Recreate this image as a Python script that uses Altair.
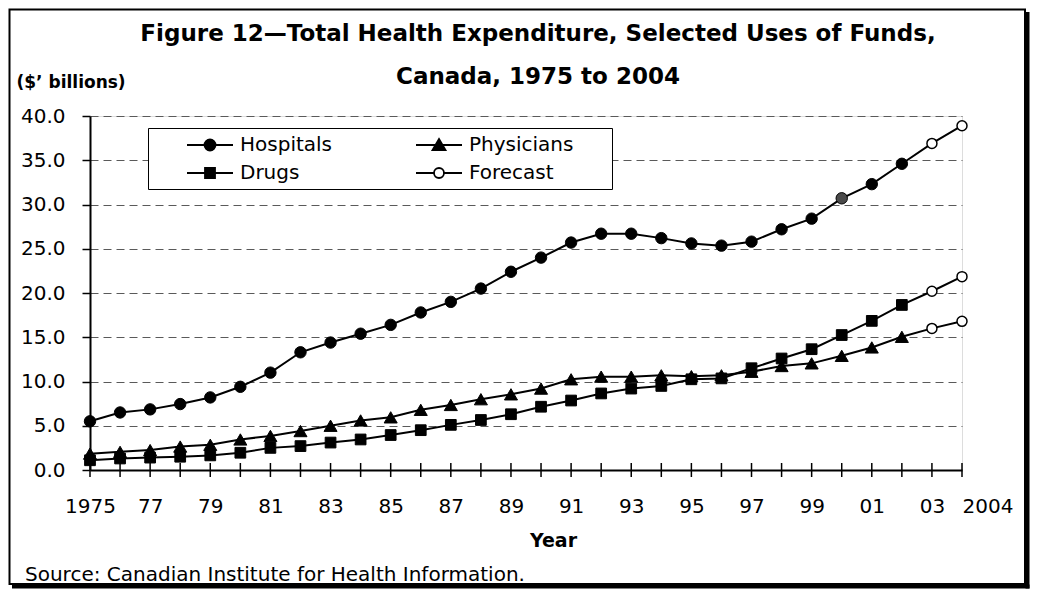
import altair as alt
import pandas as pd

# ---------------- data ----------------
years = list(range(1975, 2005))
hospitals = [5.5, 6.5, 6.85, 7.45, 8.2, 9.4, 11.0, 13.3, 14.4, 15.4, 16.4, 17.8, 19.0, 20.5, 22.4,
             24.0, 25.7, 26.7, 26.7, 26.2, 25.6, 25.35, 25.8, 27.2, 28.4, 30.7, 32.3, 34.6, 36.9, 38.9]
physicians = [1.85, 2.05, 2.25, 2.65, 2.85, 3.45, 3.85, 4.4, 5.0, 5.6, 5.95, 6.8, 7.35, 8.0, 8.55,
              9.2, 10.25, 10.55, 10.55, 10.7, 10.6, 10.7, 11.1, 11.75, 12.05, 12.9, 13.85, 15.05, 16.0, 16.8]
drugs = [1.1, 1.3, 1.4, 1.5, 1.65, 1.95, 2.5, 2.7, 3.1, 3.45, 3.95, 4.5, 5.1, 5.65, 6.3,
         7.15, 7.85, 8.65, 9.2, 9.5, 10.25, 10.35, 11.5, 12.6, 13.65, 15.25, 16.85, 18.65, 20.2, 21.85]
forecast_years = [2003, 2004]
series_names = ["Hospitals", "Physicians", "Drugs"]
legend_keys = ["Hospitals", "Physicians", "Drugs", "Forecast"]
y_ticks = [0, 5, 10, 15, 20, 25, 30, 35, 40]
x_tick_years = [1975, 1977, 1979, 1981, 1983, 1985, 1987, 1989, 1991, 1993, 1995, 1997,
                1999, 2001, 2003, 2004]
x_tick_labels = ["1975", "77", "79", "81", "83", "85", "87", "89", "91", "93", "95", "97",
                 "99", "01", "03", "2004"]

title_lines = ["Figure 12\u2014Total Health Expenditure, Selected Uses of Funds,",
               "Canada, 1975 to 2004"]
y_title = "($\u2019 billions)"
x_title = "Year"
source_text = "Source: Canadian Institute for Health Information."

FONT = "DejaVu Sans"

rows = []
for name, vals in zip(series_names, [hospitals, physicians, drugs]):
    for yr, v in zip(years, vals):
        rows.append({"year": yr, "value": v, "series": name,
                     "forecast": yr in forecast_years})
df = pd.DataFrame(rows)
years_df = pd.DataFrame({"year": years})

# ---------------- encodings ----------------
label_map = "{" + ",".join(f"'{y}':'{l}'" for y, l in zip(x_tick_years, x_tick_labels)) + "}"

x_enc = alt.X(
    "year:Q",
    scale=alt.Scale(domain=[1975, 2004], nice=False, zero=False),
    axis=alt.Axis(
        values=x_tick_years, labelExpr=f"{label_map}[datum.value]",
        labelFont=FONT, labelFontSize=20, labelColor="black", labelPadding=26,
        labelAlign={"condition": {"test": "datum.value == 2004", "value": "left"}, "value": "center"},
        labelOverlap=False, labelFlush=False,
        ticks=False, tickSize=0, domainColor="black", domainWidth=2, grid=False,
        title=x_title, titleFont=FONT, titleFontSize=19, titleFontWeight="bold",
        titleColor="black", titleX=463, titleY=70, titleBaseline="middle", titleAlign="center",
    ),
)
y_enc = alt.Y(
    "value:Q",
    scale=alt.Scale(domain=[0, 40], nice=False),
    axis=alt.Axis(
        values=y_ticks, format=".1f",
        labelFont=FONT, labelFontSize=20, labelColor="black", labelPadding=17,
        tickSize=8, tickWidth=1.5, tickColor="black",
        domainColor="black", domainWidth=2,
        grid=True, gridColor="#5a5a5a", gridDash=[8, 5], gridWidth=1,
        gridOpacity={"condition": {"test": "datum.value == 0", "value": 0}, "value": 1},
        title=y_title, titleAngle=0, titleAlign="left", titleBaseline="middle",
        titleX=-74, titleY=-34, titleFont=FONT, titleFontSize=17, titleFontWeight="bold",
        titleColor="black",
    ),
)

# crossing ticks on the x axis
ticks = alt.Chart(years_df).mark_rule(color="black", strokeWidth=1.5, yOffset=-7, y2Offset=7).encode(
    x=x_enc, y=alt.datum(0), y2=alt.datum(0)
)

lines = alt.Chart(df).mark_line(color="black", strokeWidth=2).encode(
    x=x_enc, y=y_enc, detail="series:N"
)

hosp_pts = alt.Chart(df).transform_filter(
    "datum.series == 'Hospitals' && !datum.forecast"
).mark_point(shape="circle", filled=True, size=130, stroke="black", strokeWidth=1, opacity=1).encode(
    x=x_enc, y=y_enc,
    fill=alt.condition("datum.year == 2000", alt.value("#4a4a4a"), alt.value("black")),
)
phys_pts = alt.Chart(df).transform_filter(
    "datum.series == 'Physicians' && !datum.forecast"
).mark_point(shape="triangle-up", filled=True, size=170, fill="black", stroke="black",
             strokeWidth=1, opacity=1).encode(x=x_enc, y=y_enc)
drug_pts = alt.Chart(df).transform_filter(
    "datum.series == 'Drugs' && !datum.forecast"
).mark_point(shape="square", filled=True, size=115, fill="black", stroke="black",
             strokeWidth=1, opacity=1).encode(x=x_enc, y=y_enc)
fc_pts = alt.Chart(df).transform_filter("datum.forecast").mark_point(
    shape="circle", filled=True, size=100, fill="white", stroke="black", strokeWidth=1.5, opacity=1
).encode(x=x_enc, y=y_enc)

# legend (line + marker symbols)
def circ(r):
    return f"M{r},0A{r},{r},0,1,1,{-r},0A{r},{r},0,1,1,{r},0Z"

ext = "M16.3,0L16.3,0"
legend_paths = [
    ext + "M-2.3,0H2.3" + circ(0.55),
    ext + "M-2.3,0H2.3" + "M0,-0.6L0.65,0.5L-0.65,0.5Z",
    ext + "M-2.3,0H2.3" + "M-0.5,-0.5H0.5V0.5H-0.5Z",
    ext + "M-2.3,0H-0.5M0.5,0H2.3" + circ(0.5),
]
legend_fills = ["black", "black", "black", "white"]
legend_strokes = ["black", "black", "black", "black"]
leg = alt.Legend(
    title=None, orient="none", legendX=58, legendY=12, columns=2, direction="horizontal",
    symbolSize=400, symbolStrokeWidth=1.8, symbolStrokeColor="black", symbolOffset=45,
    labelFont=FONT, labelFontSize=20, labelColor="black", labelOffset=19,
    columnPadding=6, rowPadding=7, padding=6,
    strokeColor="black", fillColor="white",
)
legend_layer = alt.Chart(df).transform_filter("false").transform_calculate(
    key="datum.series"
).mark_point(filled=True, size=400, strokeWidth=1.8, opacity=1).encode(
    shape=alt.Shape("key:N", scale=alt.Scale(domain=legend_keys, range=legend_paths), legend=leg),
    fill=alt.Fill("key:N", scale=alt.Scale(domain=legend_keys, range=legend_fills), legend=leg),
    stroke=alt.Stroke("key:N", scale=alt.Scale(domain=legend_keys, range=legend_strokes), legend=leg),
)

# figure frame and source note
one = alt.Data(values=[{}])
frame = alt.Chart(one).mark_rect(filled=False, stroke="black", strokeWidth=2).encode(
    x=alt.value(-80.5), x2=alt.value(935), y=alt.value(-106.5), y2=alt.value(468)
)
shadow_r = alt.Chart(one).mark_rule(color="black", strokeWidth=4).encode(
    x=alt.value(937.5), x2=alt.value(937.5), y=alt.value(-104), y2=alt.value(472.5)
)
shadow_b = alt.Chart(one).mark_rule(color="black", strokeWidth=4).encode(
    x=alt.value(-78), x2=alt.value(939.5), y=alt.value(470.5), y2=alt.value(470.5)
)
source = alt.Chart(one).mark_text(
    text=source_text, align="left", baseline="middle", font=FONT, fontSize=20, color="black"
).encode(x=alt.value(-65), y=alt.value(459))

chart = alt.layer(
    ticks, lines, hosp_pts, phys_pts, drug_pts, fc_pts, legend_layer,
    frame, shadow_r, shadow_b, source
).properties(
    width=872, height=354,
    autosize=alt.AutoSizeParams(type="none"),
    padding={"left": 82, "top": 108, "right": 69, "bottom": 120},
    title=alt.TitleParams(
        text=title_lines, font=FONT, fontSize=23, fontWeight="bold", color="black",
        anchor="middle", dx=12, offset=0, dy=103, lineHeight=43, baseline="bottom",
    ),
).configure_view(stroke=None).configure_legend(strokeWidth=1.5).configure(background="white")

chart.save("out.html", embed_options={"renderer": "svg", "actions": False})
